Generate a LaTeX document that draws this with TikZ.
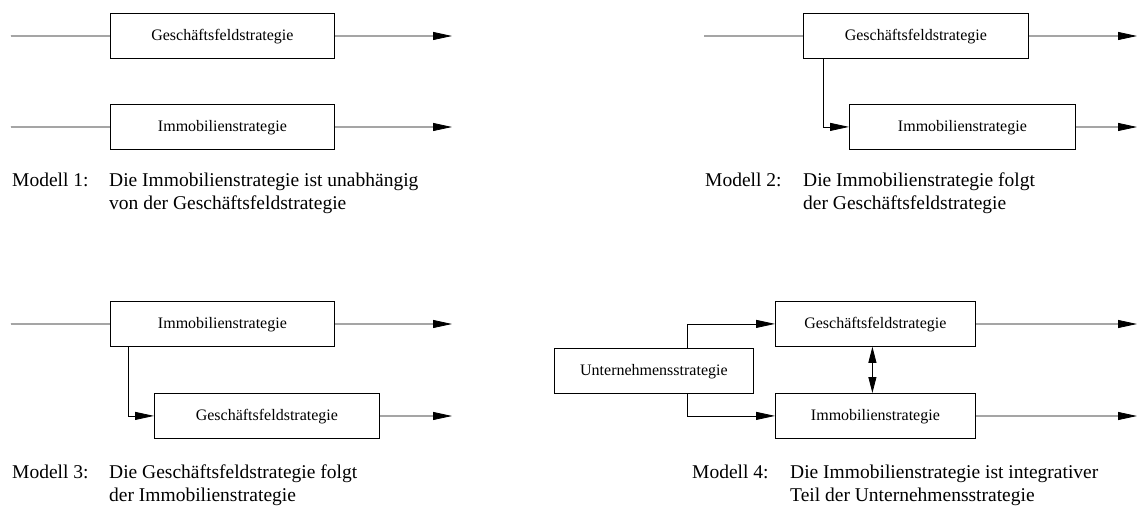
\documentclass[tikz,border=0pt]{standalone}
\usepackage{fontspec}
\setmainfont{Liberation Serif}
\usetikzlibrary{arrows.meta}
\begin{document}
\begin{tikzpicture}[x=1pt,y=-1pt,
  box/.style={draw, line width=0.8pt, minimum width=224pt, minimum height=45pt, inner sep=0pt, anchor=north west, text height=11pt, text depth=2pt, font=\fontsize{16}{18}\selectfont},
  con/.style={line width=0.8pt},
  arr/.style={con, -{Triangle[length=19pt,width=8pt]}},
  darr/.style={con, {Triangle[length=16pt,width=8pt]}-{Triangle[length=16pt,width=8pt]}},
  captxt/.style={anchor=base west, inner sep=0pt, font=\fontsize{19.5}{23}\selectfont}]
\useasboundingbox (0,0) rectangle (1137,507);

% Modell 1
\node[box] (g1) at (110,13) {Geschäftsfeldstrategie};
\node[box] (i1) at (110,104) {Immobilienstrategie};
\coordinate (s1) at (11,36);
\coordinate (e1) at (452,36);
\coordinate (s2) at (11,127);
\coordinate (e2) at (452,127);
\draw[con] (s1) -- (g1.west);
\draw[arr] (g1.east) -- (e1);
\draw[con] (s2) -- (i1.west);
\draw[arr] (i1.east) -- (e2);
\node[captxt] (m1) at (12,186) {Modell 1:};
\node[captxt] (t1a) at (109,186) {Die Immobilienstrategie ist unabhängig};
\node[captxt] (t1b) at (109,209) {von der Geschäftsfeldstrategie};

% Modell 2
\node[box, minimum width=225pt] (g2) at (803,13) {Geschäftsfeldstrategie};
\node[box, minimum width=226pt] (i2) at (849,104) {Immobilienstrategie};
\coordinate (s3) at (704,36);
\coordinate (e3) at (1137,36);
\coordinate (e4) at (1137,127);
\draw[con] (s3) -- (g2.west);
\draw[arr] (g2.east) -- (e3);
\draw[arr] ([xshift=20pt]g2.south west) |- (i2.west);
\draw[arr] (i2.east) -- (e4);
\node[captxt] (m2) at (705,186) {Modell 2:};
\node[captxt] (t2a) at (803,186) {Die Immobilienstrategie folgt};
\node[captxt] (t2b) at (803,209) {der Geschäftsfeldstrategie};

% Modell 3
\node[box] (i3) at (110,301) {Immobilienstrategie};
\node[box, minimum width=225pt] (g3) at (154,393) {Geschäftsfeldstrategie};
\coordinate (s5) at (11,324);
\coordinate (e5) at (452,324);
\coordinate (e6) at (452,416);
\draw[con] (s5) -- (i3.west);
\draw[arr] (i3.east) -- (e5);
\draw[arr] ([xshift=18pt]i3.south west) |- (g3.west);
\draw[arr] (g3.east) -- (e6);
\node[captxt] (m3) at (12,478) {Modell 3:};
\node[captxt] (t3a) at (109,478) {Die Geschäftsfeldstrategie folgt};
\node[captxt] (t3b) at (109,501) {der Immobilienstrategie};

% Modell 4
\node[box, minimum width=199pt] (u) at (554,348) {Unternehmensstrategie};
\node[box, minimum width=200pt] (g4) at (775,301) {Geschäftsfeldstrategie};
\node[box, minimum width=200pt] (i4) at (775,393) {Immobilienstrategie};
\coordinate (e7) at (1137,324);
\coordinate (e8) at (1137,416);
\draw[arr] ([xshift=133pt]u.north west) |- (g4.west);
\draw[arr] ([xshift=133pt]u.south west) |- (i4.west);
\draw[darr] ([xshift=-3pt]g4.south) -- ([xshift=-3pt]i4.north);
\draw[arr] (g4.east) -- (e7);
\draw[arr] (i4.east) -- (e8);
\node[captxt] (m4) at (692,478) {Modell 4:};
\node[captxt] (t4a) at (790,478) {Die Immobilienstrategie ist integrativer};
\node[captxt] (t4b) at (790,501) {Teil der Unternehmensstrategie};
\end{tikzpicture}
\end{document}
